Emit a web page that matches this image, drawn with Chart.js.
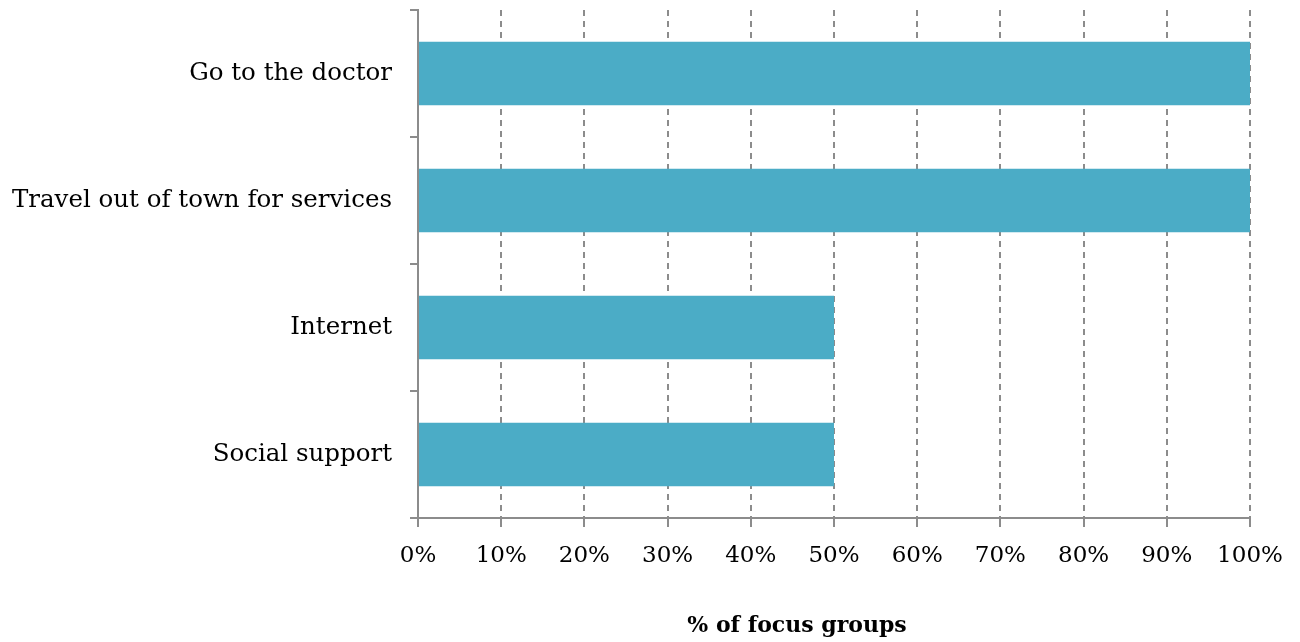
<!DOCTYPE html>
<html>
<head>
<meta charset="utf-8">
<script src="https://cdn.jsdelivr.net/npm/chart.js@4/dist/chart.umd.min.js"></script>
<style>
    html, body { margin: 0; padding: 0; background: #fff; }
    #wrap { width: 1300px; height: 642px; }
</style>
</head>
<body>
<div id="wrap"><canvas id="chart" width="1300" height="642"></canvas></div>
<script>
const categories = ['Go to the doctor', 'Travel out of town for services', 'Internet', 'Social support'];
const shares = [100, 100, 50, 50];
const axisTitle = '% of focus groups';

const serif = "'DejaVu Serif', 'Liberation Serif', serif";
const gridGray = '#8c8c8c';

// bottom axis title, centred under the whole figure like the original layout
const axisTitlePlugin = {
    id: 'axisTitleText',
    afterDraw(chart) {
        const ctx = chart.ctx;
        ctx.save();
        ctx.font = `bold 22px ${serif}`;
        ctx.fillStyle = '#000';
        ctx.textAlign = 'center';
        ctx.textBaseline = 'middle';
        ctx.fillText(axisTitle, 797, 626);
        ctx.restore();
    }
};

new Chart(document.getElementById('chart'), {
    type: 'bar',
    data: {
        labels: categories,
        datasets: [{
            data: shares,
            backgroundColor: '#4bacc6',
            borderWidth: 0,
            barPercentage: 1,
            categoryPercentage: 0.5
        }]
    },
    options: {
        indexAxis: 'y',
        responsive: false,
        animation: false,
        layout: { padding: { top: 10, right: 50, left: 0, bottom: 0 } },
        plugins: {
            legend: { display: false },
            tooltip: { enabled: false }
        },
        scales: {
            x: {
                min: 0,
                max: 100,
                afterFit: (scale) => { scale.height = 124; },
                ticks: {
                    stepSize: 10,
                    color: '#000',
                    padding: 15,
                    font: { family: serif, size: 23 },
                    callback: (v) => v + '%'
                },
                grid: {
                    color: gridGray,
                    lineWidth: 2,
                    tickLength: 9,
                    drawTicks: true
                },
                border: { color: gridGray, width: 2, dash: [6, 5] }
            },
            y: {
                afterFit: (scale) => {
                    scale.width = 418;
                    // no extra room above the first category
                    scale.paddingTop = 0;
                    scale.paddingBottom = 0;
                },
                ticks: {
                    color: '#000',
                    padding: 18,
                    font: { family: serif, size: 24.5 }
                },
                grid: {
                    drawOnChartArea: false,
                    color: gridGray,
                    lineWidth: 2,
                    tickLength: 8
                },
                border: { color: gridGray, width: 2 }
            }
        }
    },
    plugins: [axisTitlePlugin]
});
</script>
</body>
</html>
